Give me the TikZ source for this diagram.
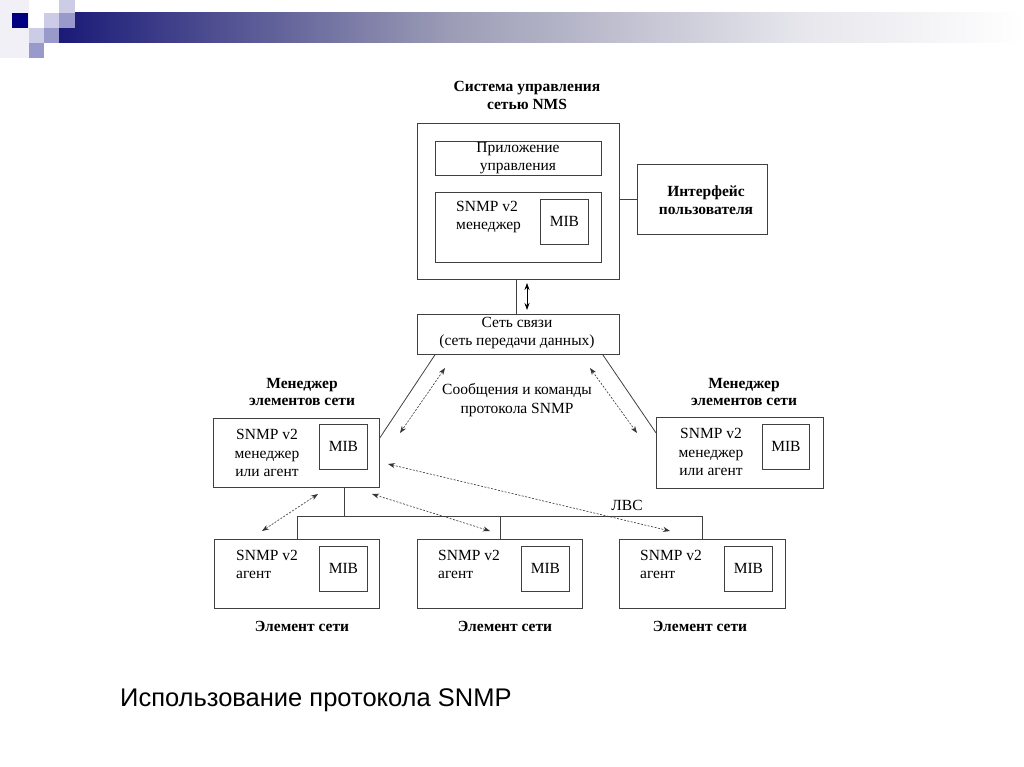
\documentclass[tikz,border=0pt]{standalone}
\usepackage{fontspec}
\setmainfont{Liberation Serif}
\newfontfamily\capfont{Liberation Sans}
\usetikzlibrary{arrows.meta}
\definecolor{navy}{HTML}{1A1A78}
\definecolor{dsq}{HTML}{000080}
\definecolor{lsq}{HTML}{CCCCE6}
\definecolor{msq}{HTML}{9999CC}
\definecolor{fsq}{HTML}{F0F0F6}
\definecolor{gmid}{HTML}{9C9CB6}
\definecolor{glt}{HTML}{E6E6EC}
\begin{document}
\begin{tikzpicture}[x=1pt,y=-1pt,
 box/.style={draw=black!75, line width=0.8pt, anchor=north west, inner sep=0pt},
 mib/.style={box, font=\fontsize{15.5}{17}\selectfont},
 txt/.style={font=\fontsize{15.5}{18.5}\selectfont, align=center, inner sep=0pt},
 ltxt/.style={font=\fontsize{15.5}{18}\selectfont, align=left, inner sep=0pt, anchor=west},
 btxt/.style={font=\fontsize{15.5}{17.5}\selectfont\bfseries, align=center, inner sep=0pt},
 ln/.style={draw=black!75, line width=0.8pt},
 dar/.style={black!80, line width=0.6pt, dash pattern=on 2pt off 1.5pt, {Stealth[length=7pt,width=5pt]}-{Stealth[length=7pt,width=5pt]}},
 sar/.style={black, line width=0.7pt, {Stealth[length=7pt,width=5pt]}-{Stealth[length=7pt,width=5pt]}},
]
\useasboundingbox (0,0) rectangle (1024,767);
% decoration
\fill[fsq] (0,0) rectangle (29,58);
\shade[left color=navy, right color=gmid] (59,13) rectangle (450,43);
\shade[left color=gmid, right color=glt] (450,13) rectangle (800,43);
\shade[left color=glt, right color=white] (800,13) rectangle (1024,43);
\fill[dsq] (12,13) rectangle (28,28);
\fill[lsq] (44,13) rectangle (59,28);
\fill[lsq] (59,0) rectangle (75,13);
\fill[msq] (59,13) rectangle (75,28);
\fill[lsq] (29,28) rectangle (44,43);
\fill[msq] (44,28) rectangle (59,43);
\fill[msq] (29,43) rectangle (44,58);

% NMS
\node[btxt] (nmst) at (527,95.5) {Система управления\\сетью NMS};
\node[box, minimum width=202, minimum height=156] (nms) at (417,123) {};
\node[box, minimum width=166, minimum height=34] (app) at (435,141) {};
\node[txt] (appt) at (518,158) {Приложение\\управления};
\node[box, minimum width=166, minimum height=70] (mgr) at (435,192) {};
\node[ltxt] (mgrt) at (456,217) {SNMP v2\\менеджер};
\node[mib, minimum width=48, minimum height=45] (mib0) at (540,199) {MIB};
\node[box, minimum width=130, minimum height=70] (iface) at (637,164) {};
\node[btxt] (ifacet) at (706,200) {Интерфейс\\пользователя};
\draw[ln] (nms.east |- iface.west) -- (iface.west);

% network
\node[box, minimum width=202, minimum height=40] (net) at (417,314) {};
\node[txt] (nett) at (517,333) {Сеть связи\\(сеть передачи данных)};
\draw[ln] ([xshift=-2]nms.south) -- ([xshift=-2]nms.south |- net.north);
\coordinate (da1) at (527,283);
\coordinate (da2) at (527,310);
\draw[sar] (da1) -- (da2);
\node[txt] (msg) at (517,400) {Сообщения и команды\\протокола SNMP};

% left manager
\node[btxt] (lmt) at (302,392) {Менеджер\\элементов сети};
\node[box, minimum width=166, minimum height=69] (lm) at (213,418) {};
\node[txt] (lmtx) at (267,453) {SNMP v2\\менеджер\\или агент};
\node[mib, minimum width=48, minimum height=45] (mib1) at (319,424) {MIB};

% right manager
\node[btxt] (rmt) at (744,392) {Менеджер\\элементов сети};
\node[box, minimum width=167, minimum height=71] (rm) at (656,417) {};
\node[txt] (rmtx) at (711,452) {SNMP v2\\менеджер\\или агент};
\node[mib, minimum width=47, minimum height=45] (mib2) at (762,424) {MIB};

\draw[ln] ([xshift=18]net.south west) -- ([yshift=15]lm.east);
\draw[ln] ([xshift=-17]net.south east) -- ([yshift=20]rm.west);

% elements
\node[box, minimum width=165, minimum height=69] (e1) at (214,539) {};
\node[box, minimum width=165, minimum height=69] (e2) at (417,539) {};
\node[box, minimum width=166, minimum height=69] (e3) at (619,539) {};
\node[mib, minimum width=48, minimum height=45] (m1) at (319,546) {MIB};
\node[mib, minimum width=48, minimum height=45] (m2) at (521,546) {MIB};
\node[mib, minimum width=48, minimum height=45] (m3) at (724,546) {MIB};
\node[ltxt] (e1t) at (236,564) {SNMP v2\\агент};
\node[ltxt] (e2t) at (438,564) {SNMP v2\\агент};
\node[ltxt] (e3t) at (640,564) {SNMP v2\\агент};
\node[btxt] (e1n) at (302,626) {Элемент сети};
\node[btxt] (e2n) at (505,626) {Элемент сети};
\node[btxt] (e3n) at (700,626) {Элемент сети};

% LAN
\coordinate (busL) at (295,516);
\coordinate (busR) at (704,516);
\draw[ln] ([xshift=48]lm.south) -- ([xshift=48]lm.south |- busL);
\draw[ln] (e1.north |- busL) -- (e3.north |- busL);
\draw[ln] (e1.north |- busL) -- (e1.north);
\draw[ln] (e2.north |- busL) -- (e2.north);
\draw[ln] (e3.north |- busL) -- (e3.north);
\node[txt] (lan) at (627,505) {ЛВС};

% dashed arrows
\coordinate (a1s) at (445,368); \coordinate (a1e) at (400,433);
\coordinate (a2s) at (590,368); \coordinate (a2e) at (637,433);
\coordinate (a3s) at (388,464); \coordinate (a3e) at (670,531);
\coordinate (a4s) at (318,494); \coordinate (a4e) at (262,531);
\coordinate (a5s) at (372,494); \coordinate (a5e) at (490,531);
\draw[dar] (a1s) -- (a1e);
\draw[dar] (a2s) -- (a2e);
\draw[dar] (a3s) -- (a3e);
\draw[dar] (a4s) -- (a4e);
\draw[dar] (a5s) -- (a5e);

% caption
\node[font=\capfont\fontsize{25.5}{30}\selectfont, anchor=west, inner sep=0pt] (cap) at (120,700) {Использование протокола SNMP};
\end{tikzpicture}
\end{document}
